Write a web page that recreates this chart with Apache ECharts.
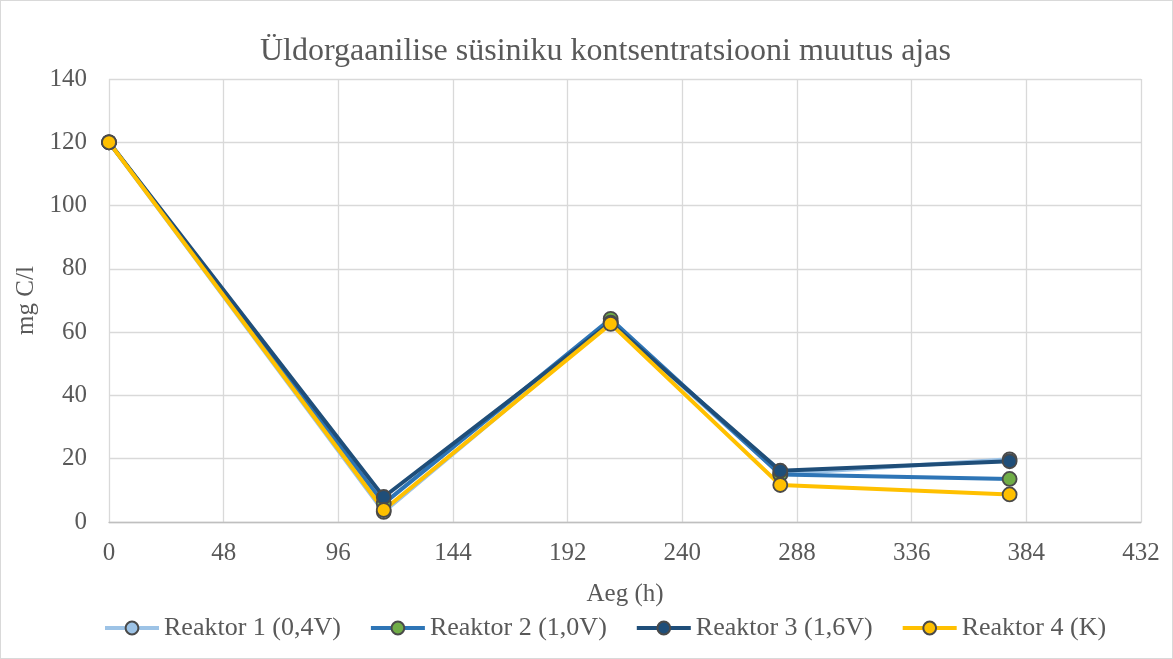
<!DOCTYPE html>
<html>
<head>
<meta charset="utf-8">
<script src="https://cdn.jsdelivr.net/npm/echarts@6/dist/echarts.min.js"></script>
<style>
  html, body { margin: 0; padding: 0; background: #fff; }
  #chart { width: 1173px; height: 659px; box-sizing: border-box; border: 1px solid #d9d9d9; }
</style>
</head>
<body>
<div id="chart"></div>
<script>
// aeg (h)
var hours = [0, 115, 210, 281, 377];
// mg C/l
var reaktor1 = [120, 3.2, 63.2, 15.2, 19.8];
var reaktor2 = [120, 5.8, 64.2, 15.0, 13.6];
var reaktor3 = [120, 7.9, 63.0, 16.2, 19.2];
var reaktor4 = [120, 3.8, 62.6, 11.7, 8.7];
var names = ['Reaktor 1 (0,4V)', 'Reaktor 2 (1,0V)', 'Reaktor 3 (1,6V)', 'Reaktor 4 (K)'];
var lineColors = ['#9dc3e6', '#2e75b6', '#1f4e79', '#ffc000'];
var markColors = ['#9dc3e6', '#70ad47', '#1f4e79', '#ffc000'];

function pairs(vals) {
  return hours.map(function (h, i) { return [h, vals[i]]; });
}

var chart = echarts.init(document.getElementById('chart'));
var font = 'Liberation Serif';
var txt = '#595959';

function mkSeries(i, vals) {
  return {
    name: names[i],
    type: 'line',
    data: pairs(vals),
    symbol: 'circle',
    symbolSize: 14,
    lineStyle: { color: lineColors[i], width: 4 },
    itemStyle: { color: markColors[i], borderColor: '#4a4a4a', borderWidth: 1.8 },
    emphasis: { disabled: true }
  };
}

var option = {
  animation: false,
  title: {
    text: 'Üldorgaanilise süsiniku kontsentratsiooni muutus ajas',
    left: 254,
    top: 30,
    textStyle: { fontFamily: font, fontSize: 32, fontWeight: 'normal', color: txt }
  },
  grid: { left: 108, right: 31, top: 78, bottom: 136, containLabel: false },
  legend: {
    bottom: 12,
    left: 97,
    itemWidth: 54,
    itemHeight: 16,
    itemGap: 28,
    lineStyle: { width: 4 },
    textStyle: { fontFamily: font, fontSize: 26, color: txt },
    data: names
  },
  xAxis: {
    type: 'value',
    min: 0,
    max: 432,
    interval: 48,
    name: 'Aeg (h)',
    nameLocation: 'middle',
    nameGap: 60,
    nameTextStyle: { fontFamily: font, fontSize: 25, color: txt },
    axisLine: { show: true, lineStyle: { color: '#bfbfbf', width: 1.3 } },
    axisTick: { show: false },
    axisLabel: { fontFamily: font, fontSize: 25, color: txt, margin: 19 },
    splitLine: { show: true, lineStyle: { color: '#d9d9d9', width: 1.3 } }
  },
  yAxis: {
    type: 'value',
    min: 0,
    max: 140,
    interval: 20,
    name: 'mg C/l',
    nameLocation: 'middle',
    nameGap: 62,
    nameRotate: 90,
    nameTextStyle: { fontFamily: font, fontSize: 25, color: txt },
    axisLine: { show: false },
    axisTick: { show: false },
    axisLabel: { fontFamily: font, fontSize: 25, color: txt, margin: 22 },
    splitLine: { show: true, lineStyle: { color: '#d9d9d9', width: 1.3 } }
  },
  series: [
    mkSeries(0, reaktor1),
    mkSeries(1, reaktor2),
    mkSeries(2, reaktor3),
    mkSeries(3, reaktor4)
  ]
};

chart.setOption(option);
</script>
</body>
</html>
